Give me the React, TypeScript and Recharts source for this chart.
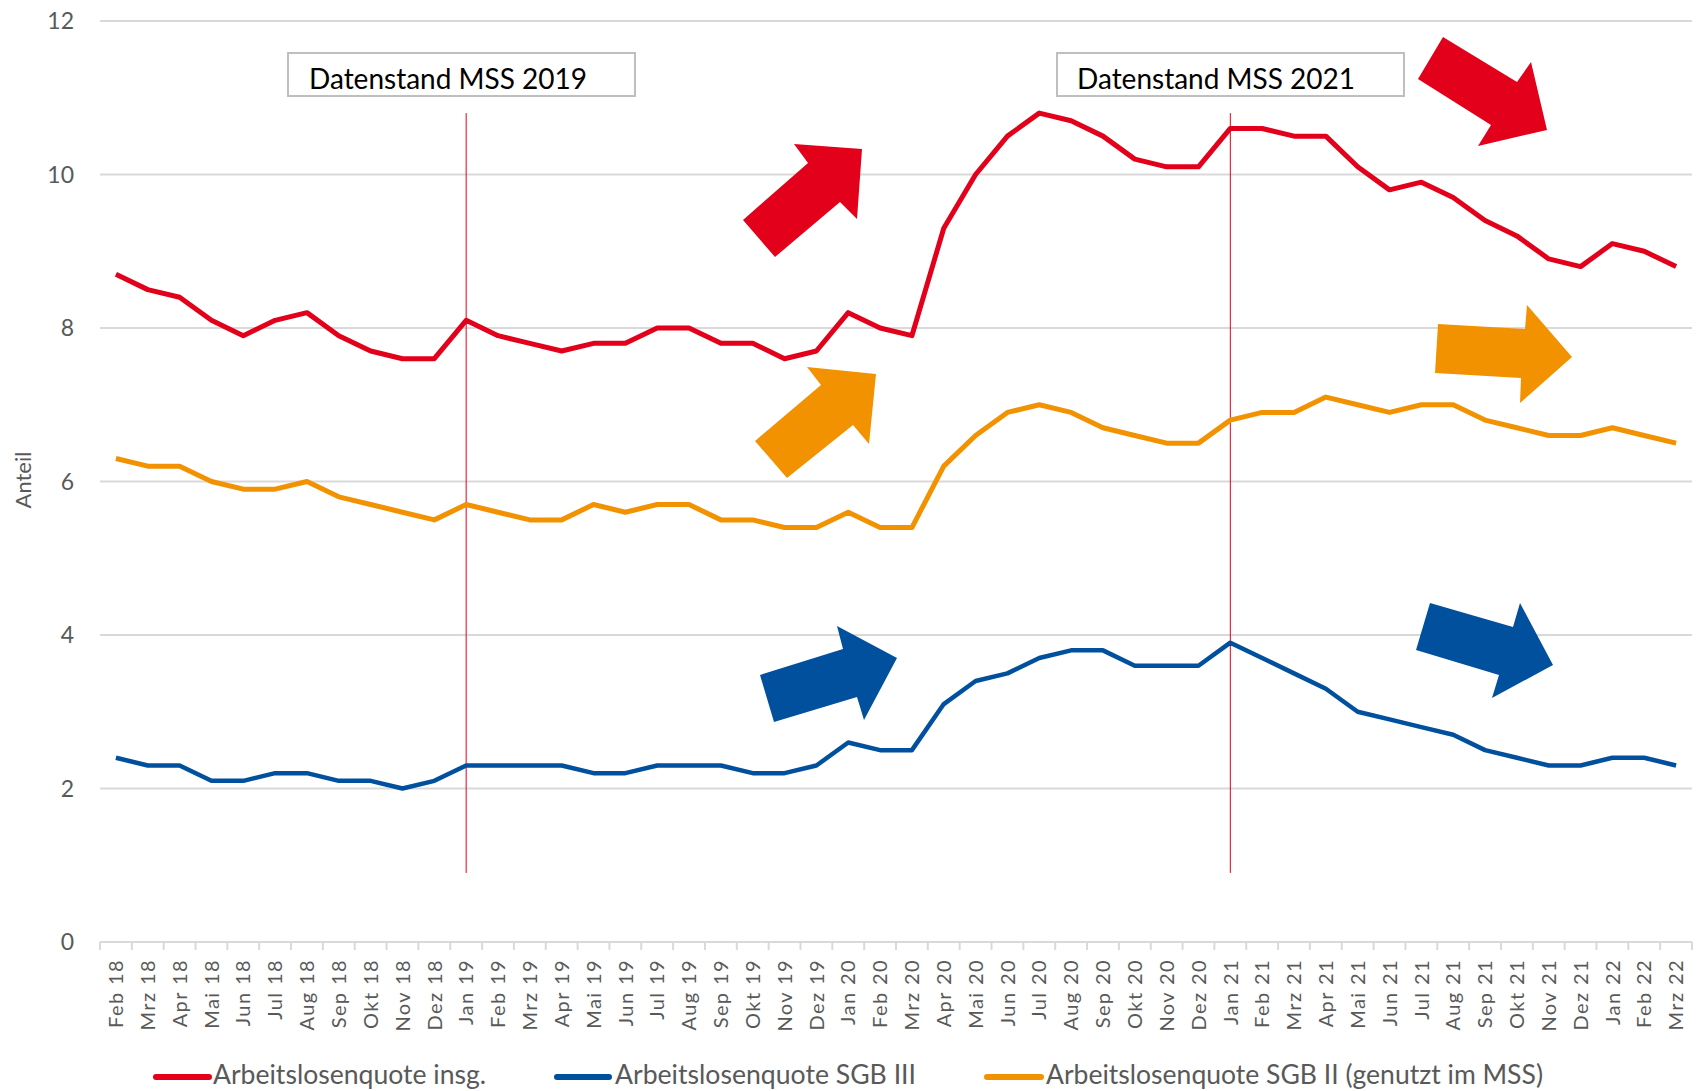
import { LineChart, Line, XAxis, YAxis, CartesianGrid, ReferenceLine } from "recharts";

const RED = "#E2001A";
const BLUE = "#00509E";
const ORANGE = "#F39200";
const GRID = "#D9D9D9";
const TEXT = "#595959";
const FONT = "Lato, 'Noto Sans', sans-serif";

const W = 1698;
const H = 1091;
const PLOT_LEFT = 100;
const PLOT_RIGHT = 1692;

const months = [
  "Feb 18", "Mrz 18", "Apr 18", "Mai 18", "Jun 18", "Jul 18", "Aug 18", "Sep 18", "Okt 18", "Nov 18", "Dez 18",
  "Jan 19", "Feb 19", "Mrz 19", "Apr 19", "Mai 19", "Jun 19", "Jul 19", "Aug 19", "Sep 19", "Okt 19", "Nov 19", "Dez 19",
  "Jan 20", "Feb 20", "Mrz 20", "Apr 20", "Mai 20", "Jun 20", "Jul 20", "Aug 20", "Sep 20", "Okt 20", "Nov 20", "Dez 20",
  "Jan 21", "Feb 21", "Mrz 21", "Apr 21", "Mai 21", "Jun 21", "Jul 21", "Aug 21", "Sep 21", "Okt 21", "Nov 21", "Dez 21",
  "Jan 22", "Feb 22", "Mrz 22",
];

const insgesamt = [
  8.7, 8.5, 8.4, 8.1, 7.9, 8.1, 8.2, 7.9, 7.7, 7.6, 7.6,
  8.1, 7.9, 7.8, 7.7, 7.8, 7.8, 8.0, 8.0, 7.8, 7.8, 7.6, 7.7,
  8.2, 8.0, 7.9, 9.3, 10.0, 10.5, 10.8, 10.7, 10.5, 10.2, 10.1, 10.1,
  10.6, 10.6, 10.5, 10.5, 10.1, 9.8, 9.9, 9.7, 9.4, 9.2, 8.9, 8.8,
  9.1, 9.0, 8.8,
];

const sgb3 = [
  2.4, 2.3, 2.3, 2.1, 2.1, 2.2, 2.2, 2.1, 2.1, 2.0, 2.1,
  2.3, 2.3, 2.3, 2.3, 2.2, 2.2, 2.3, 2.3, 2.3, 2.2, 2.2, 2.3,
  2.6, 2.5, 2.5, 3.1, 3.4, 3.5, 3.7, 3.8, 3.8, 3.6, 3.6, 3.6,
  3.9, 3.7, 3.5, 3.3, 3.0, 2.9, 2.8, 2.7, 2.5, 2.4, 2.3, 2.3,
  2.4, 2.4, 2.3,
];

const sgb2 = [
  6.3, 6.2, 6.2, 6.0, 5.9, 5.9, 6.0, 5.8, 5.7, 5.6, 5.5,
  5.7, 5.6, 5.5, 5.5, 5.7, 5.6, 5.7, 5.7, 5.5, 5.5, 5.4, 5.4,
  5.6, 5.4, 5.4, 6.2, 6.6, 6.9, 7.0, 6.9, 6.7, 6.6, 6.5, 6.5,
  6.8, 6.9, 6.9, 7.1, 7.0, 6.9, 7.0, 7.0, 6.8, 6.7, 6.6, 6.6,
  6.7, 6.6, 6.5,
];

const yTicks = [0, 2, 4, 6, 8, 10, 12];

const data = months.map((m, i) => ({
  month: m,
  insg: insgesamt[i],
  sgb3: sgb3[i],
  sgb2: sgb2[i],
}));

const BAND = (PLOT_RIGHT - PLOT_LEFT) / months.length;

// block arrows, decorative (pixel outlines)
const arrows: { fill: string; points: number[][] }[] = [
  { fill: RED, points: [[743, 220], [808, 163], [794, 144], [862, 149], [857, 219], [840, 202], [775, 257]] },
  { fill: RED, points: [[1443, 37], [1517, 82], [1531, 62], [1547, 130], [1478, 146], [1491, 125], [1418, 79]] },
  { fill: ORANGE, points: [[755, 441], [821, 385], [807, 367], [876, 374], [869, 444], [853, 425], [787, 478]] },
  { fill: ORANGE, points: [[1438, 324], [1525, 329], [1527, 305], [1572, 357], [1520, 403], [1521, 378], [1435, 373]] },
  { fill: BLUE, points: [[760, 675], [843, 649], [837, 626], [897, 658], [864, 720], [857, 697], [774, 722]] },
  { fill: BLUE, points: [[1430, 603], [1513, 627], [1520, 603], [1553, 665], [1492, 698], [1499, 675], [1416, 650]] },
];

const legendItems = [
  { label: "Arbeitslosenquote insg.", color: RED, x1: 156, x2: 209, tx: 213, tw: 273 },
  { label: "Arbeitslosenquote SGB III", color: BLUE, x1: 557, x2: 609, tx: 615, tw: 301 },
  { label: "Arbeitslosenquote SGB II (genutzt im MSS)", color: ORANGE, x1: 987, x2: 1041, tx: 1046, tw: 497 },
];

const boxes = [
  { label: "Datenstand MSS 2019", x: 288, tx: 309 },
  { label: "Datenstand MSS 2021", x: 1057, tx: 1077 },
];

const XTick = (props: any) => {
  const { x, y, payload, index } = props;
  const left = x - BAND / 2;
  return (
    <g>
      <line x1={left} y1={y} x2={left} y2={y + 8} stroke={GRID} strokeWidth={2} />
      {index === months.length - 1 && (
        <line x1={x + BAND / 2} y1={y} x2={x + BAND / 2} y2={y + 8} stroke={GRID} strokeWidth={2} />
      )}
      <text
        transform={`translate(${x},${y + 17}) rotate(-90)`}
        textAnchor="end"
        dy="0.36em"
        fontSize={20}
        fontFamily={FONT}
        fill={TEXT}
        letterSpacing={1.4}
      >
        {payload.value}
      </text>
    </g>
  );
};

export default function App() {
  return (
    <div style={{ position: "absolute", left: 0, top: 0, width: W, height: H, background: "#fff" }}>
      <LineChart
        width={W}
        height={H}
        data={data}
        margin={{ top: 21, right: W - PLOT_RIGHT, bottom: 0, left: 50 }}
      >
        <CartesianGrid vertical={false} stroke={GRID} strokeWidth={2} />
        <XAxis
          dataKey="month"
          scale="band"
          interval={0}
          height={149}
          axisLine={{ stroke: GRID, strokeWidth: 2 }}
          tickLine={false}
          tickSize={0}
          tickMargin={0}
          tick={<XTick />}
        />
        <YAxis
          domain={[0, 12]}
          ticks={yTicks}
          width={50}
          axisLine={false}
          tickLine={false}
          tickSize={0}
          tickMargin={26}
          tick={{ fontSize: 23, fill: TEXT, fontFamily: FONT }}
        />
        <ReferenceLine
          segment={[{ x: "Jan 19", y: 0.9 }, { x: "Jan 19", y: 10.8 }]}
          stroke={RED}
          strokeWidth={1}
        />
        <ReferenceLine
          segment={[{ x: "Jan 21", y: 0.9 }, { x: "Jan 21", y: 10.8 }]}
          stroke={RED}
          strokeWidth={1}
        />
        <Line dataKey="insg" stroke={RED} strokeWidth={5} dot={false} isAnimationActive={false} strokeLinejoin="round" />
        <Line dataKey="sgb3" stroke={BLUE} strokeWidth={4.5} dot={false} isAnimationActive={false} strokeLinejoin="round" />
        <Line dataKey="sgb2" stroke={ORANGE} strokeWidth={5} dot={false} isAnimationActive={false} strokeLinejoin="round" />
      </LineChart>
      <svg
        width={W}
        height={H}
        style={{ position: "absolute", left: 0, top: 0, pointerEvents: "none" }}
      >
        <text
          transform="translate(23,480) rotate(-90)"
          textAnchor="middle"
          dy="0.35em"
          fontSize={22}
          fontFamily={FONT}
          fill={TEXT}
        >
          Anteil
        </text>
        {boxes.map((b) => (
          <g key={b.label}>
            <rect x={b.x} y={53} width={347} height={43} fill="#fff" stroke="#BFBFBF" strokeWidth={2} />
            <text x={b.tx} y={89} fontSize={28} fontFamily={FONT} fill="#000" textLength={278} lengthAdjust="spacingAndGlyphs">
              {b.label}
            </text>
          </g>
        ))}
        {arrows.map((a, i) => (
          <polygon key={i} points={a.points.map((p) => p.join(",")).join(" ")} fill={a.fill} />
        ))}
        {legendItems.map((l) => (
          <g key={l.label}>
            <line x1={l.x1} y1={1077} x2={l.x2} y2={1077} stroke={l.color} strokeWidth={6} strokeLinecap="round" />
            <text x={l.tx} y={1084} fontSize={27} fontFamily={FONT} fill={TEXT} textLength={l.tw} lengthAdjust="spacingAndGlyphs">
              {l.label}
            </text>
          </g>
        ))}
      </svg>
    </div>
  );
}
